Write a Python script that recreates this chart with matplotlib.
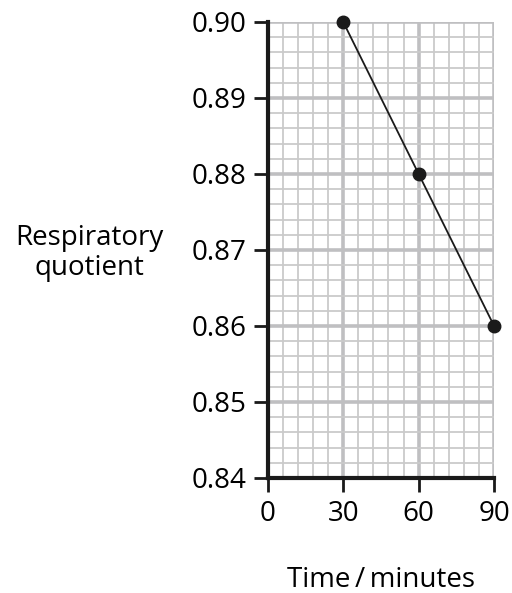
import numpy as np
import matplotlib.pyplot as plt

plt.rcParams['font.family'] = ['Open Sans', 'DejaVu Sans']

# data
time_min = [30, 60, 90]
resp_quotient = [0.90, 0.88, 0.86]
x_ticks = [0, 30, 60, 90]
y_ticks = [0.84, 0.85, 0.86, 0.87, 0.88, 0.89, 0.90]

fig = plt.figure(figsize=(5.12, 5.93), dpi=100)
ax = fig.add_axes([0.523, 0.194, 0.442, 0.769])

ax.set_xlim(0, 90)
ax.set_ylim(0.84, 0.90)

# graph paper grid
ax.set_xticks(np.arange(0, 91, 6), minor=True)
ax.set_yticks(np.arange(0.84, 0.9001, 0.002), minor=True)
ax.set_xticks(x_ticks)
ax.set_yticks(y_ticks)
ax.set_yticklabels([f"{v:.2f}" for v in y_ticks])
ax.grid(which='minor', color='#cacaca', lw=1.3, zorder=0)
ax.grid(which='major', color='#bfbfc1', lw=2.6, zorder=0)
ax.set_axisbelow(True)

for side in ['top', 'right']:
    ax.spines[side].set_visible(False)
for side in ['left', 'bottom']:
    ax.spines[side].set_linewidth(3)
    ax.spines[side].set_color('#1a1a1a')

ax.tick_params(which='major', length=10, width=2, color='#1a1a1a',
               labelsize=20, pad=5)
ax.tick_params(axis='x', which='major', pad=6)
ax.tick_params(which='minor', length=0)

ax.plot(time_min, resp_quotient, color='#1a1a1a', lw=1.3, marker='o',
        markersize=9, clip_on=False, zorder=5)

fig.text(0.174, 0.573, "Respiratory\nquotient", ha='center', va='center',
         fontsize=20, linespacing=1.08)
fig.text(0.744, 0.010, "Time\u2009/\u2009minutes", ha='center', va='baseline',
         fontsize=20)

fig.savefig("out.png", dpi=100)
